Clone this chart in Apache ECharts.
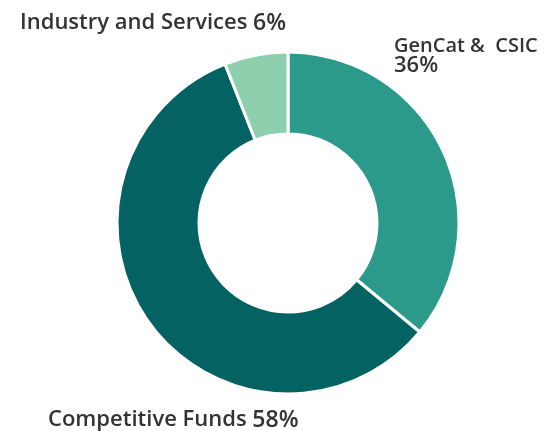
<!DOCTYPE html>
<html>
<head>
<meta charset="utf-8">
<script src="https://cdn.jsdelivr.net/npm/echarts@6/dist/echarts.min.js"></script>
<style>html,body{margin:0;padding:0;background:#fff;}#c{width:554px;height:431px;}</style>
</head>
<body>
<div id="c"></div>
<script>
const categories = ['GenCat &  CSIC', 'Competitive Funds', 'Industry and Services'];
const values = [36, 58, 6];
const colors = ['#2b9a8a', '#056262', '#8ecfad'];
const labelPos = [
  {x: 394, y: 37, sep: '\n', n: 'g', v: 'gp'},
  {x: 48, y: 409, sep: ' ', n: 'c', v: 'cp'},
  {x: 20, y: 12, sep: ' ', n: 'c', v: 'cp'}
];
const font = {fontFamily: 'Open Sans', fontWeight: 600, color: '#333333'};
const chart = echarts.init(document.getElementById('c'));
chart.setOption({
  animation: false,
  series: [{
    type: 'pie',
    center: [288, 223],
    radius: [89, 171],
    startAngle: 90,
    clockwise: true,
    data: categories.map((n, i) => ({name: n, value: values[i], itemStyle: {color: colors[i]}})),
    itemStyle: {borderColor: '#fff', borderWidth: 3},
    label: {
      show: true,
      position: 'outside',
      formatter: p => {
        const l = labelPos[p.dataIndex];
        return '{' + l.n + '|' + p.name + '}' + l.sep + '{' + l.v + '|' + p.value + '%}';
      },
      ...font,
      fontSize: 22,
      overflow: 'none',
      width: 400,
      rich: {
        g: {...font, fontSize: 20, lineHeight: 19},
        gp: {...font, fontSize: 22, lineHeight: 19},
        c: {...font, fontSize: 22, lineHeight: 22},
        cp: {...font, fontSize: 23, lineHeight: 22}
      }
    },
    labelLine: {show: false},
    labelLayout: p => ({x: labelPos[p.dataIndex].x, y: labelPos[p.dataIndex].y, align: 'left', verticalAlign: 'top', width: 400}),
    emphasis: {disabled: true}
  }]
});
</script>
</body>
</html>
